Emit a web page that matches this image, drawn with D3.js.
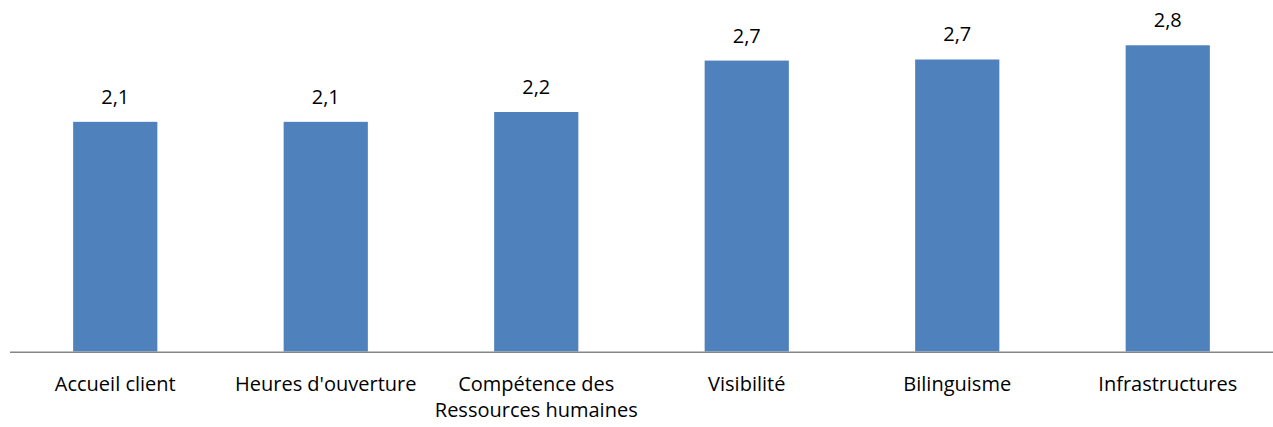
<!DOCTYPE html>
<meta charset="utf-8">
<script src="https://d3js.org/d3.v7.min.js"></script>
<body>
  <div id="my_dataviz"></div>
</body>

<style>
body {
  margin: 0;
  padding: 0;
  background: white;
  font-family: 'Open Sans', 'Noto Sans', Arial, sans-serif;
}
.bar {
  fill: #4f81bd;
}
.value-label, .cat-label {
  font-size: 20px;
  fill: #000;
}
</style>

<script>
// data
var categories = ["Accueil client", "Heures d'ouverture", "Compétence des|Ressources humaines", "Visibilité", "Bilinguisme", "Infrastructures"];
var values = [2.10, 2.10, 2.19, 2.66, 2.67, 2.80];

var width = 1273,
    height = 427,
    baseline = 351.5;

var svg = d3.select("#my_dataviz")
  .append("svg")
    .attr("width", width)
    .attr("height", height);

var x = d3.scaleBand()
  .domain(categories)
  .range([10, 1273])
  .paddingInner(0.6)
  .paddingOuter(0.3);

var y = d3.scaleLinear()
  .domain([0, 3])
  .range([baseline, 23.4]);

var fmt = function(v) { return d3.format(".1f")(v).replace(".", ","); };

// bars
svg.selectAll("rect.bar")
  .data(categories)
  .enter()
  .append("rect")
    .attr("class", "bar")
    .attr("x", function(d) { return x(d); })
    .attr("width", x.bandwidth())
    .attr("y", function(d, i) { return y(values[i]); })
    .attr("height", function(d, i) { return baseline - y(values[i]); });

// category axis line
svg.append("line")
  .attr("x1", 10)
  .attr("x2", width)
  .attr("y1", baseline + 0.75)
  .attr("y2", baseline + 0.75)
  .attr("stroke", "#868686")
  .attr("stroke-width", 1.5);

// value labels
svg.selectAll("text.value-label")
  .data(categories)
  .enter()
  .append("text")
    .attr("class", "value-label")
    .attr("x", function(d) { return x(d) + x.bandwidth() / 2; })
    .attr("y", function(d, i) { return y(values[i]) - 18; })
    .attr("text-anchor", "middle")
    .text(function(d, i) { return fmt(values[i]); });

// category labels (| marks a line break)
var labels = svg.selectAll("text.cat-label")
  .data(categories)
  .enter()
  .append("text")
    .attr("class", "cat-label")
    .attr("text-anchor", "middle");

labels.selectAll("tspan")
  .data(function(d) { return d.split("|").map(function(s) { return {line: s, cat: d}; }); })
  .enter()
  .append("tspan")
    .attr("x", function(t) { return x(t.cat) + x.bandwidth() / 2; })
    .attr("y", function(t, i) { return 391 + i * 25.5; })
    .text(function(t) { return t.line; });
</script>
